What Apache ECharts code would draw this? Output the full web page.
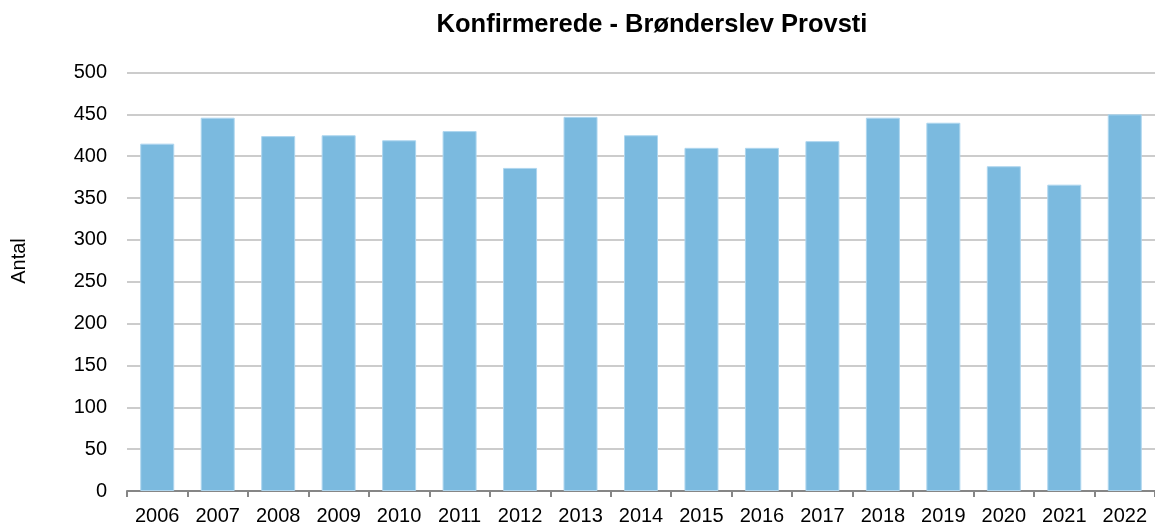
<!DOCTYPE html>
<html>
<head>
<meta charset="utf-8">
<script src="https://cdn.jsdelivr.net/npm/echarts@6/dist/echarts.min.js"></script>
<style>
  html, body { margin: 0; padding: 0; background: #ffffff; }
  #chart { width: 1155px; height: 526px; }
</style>
</head>
<body>
<div id="chart"></div>
<script>
// Confirmations per year in Brønderslev Provsti
const years = ['2006', '2007', '2008', '2009', '2010', '2011', '2012', '2013', '2014',
               '2015', '2016', '2017', '2018', '2019', '2020', '2021', '2022'];
const confirmed = [415, 446, 424, 425, 419, 430, 386, 447, 425, 410, 410, 418, 446, 440, 388, 366, 450];
const yTicks = [0, 500, 50]; // min, max, step

const FONT = '"Liberation Sans", Arial, sans-serif';

const chart = echarts.init(document.getElementById('chart'), null, { renderer: 'canvas' });
chart.setOption({
  animation: false,
  backgroundColor: '#ffffff',
  title: {
    text: 'Konfirmerede - Brønderslev Provsti',
    left: 647,
    top: 7,
    textAlign: 'center',
    textStyle: { fontFamily: FONT, fontSize: 25.5, fontWeight: 'bold', color: '#000000' }
  },
  graphic: [{
    type: 'text',
    x: 19,
    y: 261,
    rotation: Math.PI / 2,
    style: {
      text: 'Antal',
      font: '20px ' + FONT,
      fill: '#000000',
      align: 'center',
      verticalAlign: 'middle'
    }
  }],
  grid: { left: 127, top: 72.5, width: 1030, bottom: 34.5, containLabel: false },
  xAxis: {
    type: 'category',
    data: years,
    axisLine: { show: true, lineStyle: { color: '#868686', width: 2 } },
    axisTick: { show: true, alignWithLabel: false, length: 6, lineStyle: { color: '#868686', width: 2 } },
    axisLabel: { fontFamily: FONT, fontSize: 20, color: '#000000', margin: 15, interval: 0 },
    splitLine: { show: false }
  },
  yAxis: {
    type: 'value',
    min: yTicks[0],
    max: yTicks[1],
    interval: yTicks[2],
    axisLine: { show: false },
    axisTick: { show: false },
    axisLabel: { fontFamily: FONT, fontSize: 20, color: '#000000', margin: 20 },
    splitLine: { show: true, lineStyle: { color: '#cccccc', width: 2 } }
  },
  series: [{
    type: 'bar',
    data: confirmed,
    barWidth: 34,
    itemStyle: { color: '#7bbadf', borderColor: '#aed6ef', borderWidth: 1 }
  }]
});
</script>
</body>
</html>
